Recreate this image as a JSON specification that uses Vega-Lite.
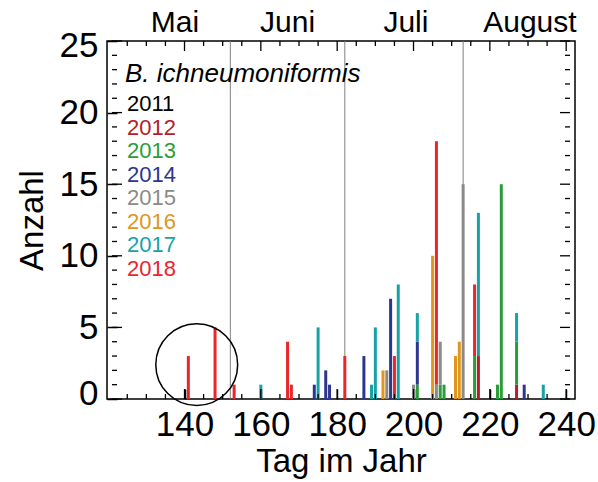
{
  "$schema": "https://vega.github.io/schema/vega-lite/v6.json",
  "width": 468,
  "height": 358,
  "autosize": {"type": "none"},
  "padding": {"left": 107, "top": 41, "right": 23, "bottom": 83},
  "config": {
    "font": "Liberation Sans",
    "view": {"stroke": "black", "strokeWidth": 1.5},
    "axis": {"domain": false, "grid": false, "ticks": true, "tickColor": "#000000", "tickWidth": 1.5, "labelColor": "black", "titleColor": "black", "titleFontWeight": "normal", "labelOverlap": false, "labelFlush": false}
  },
  "datasets": {
    "counts": [
      {"day": 141, "year": 2018, "n": 3},
      {"day": 148, "year": 2018, "n": 5},
      {"day": 153, "year": 2018, "n": 1},
      {"day": 160, "year": 2017, "n": 1},
      {"day": 167, "year": 2018, "n": 4},
      {"day": 168, "year": 2018, "n": 1},
      {"day": 174, "year": 2014, "n": 1},
      {"day": 175, "year": 2017, "n": 5},
      {"day": 177, "year": 2014, "n": 2},
      {"day": 178, "year": 2014, "n": 1},
      {"day": 182, "year": 2018, "n": 3},
      {"day": 187, "year": 2014, "n": 3},
      {"day": 189, "year": 2017, "n": 1},
      {"day": 190, "year": 2017, "n": 5},
      {"day": 192, "year": 2016, "n": 2},
      {"day": 193, "year": 2015, "n": 2},
      {"day": 194, "year": 2014, "n": 7},
      {"day": 195, "year": 2018, "n": 3},
      {"day": 196, "year": 2017, "n": 8},
      {"day": 200, "year": 2015, "n": 1},
      {"day": 201, "year": 2013, "n": 1},
      {"day": 201, "year": 2014, "n": 3},
      {"day": 201, "year": 2017, "n": 2},
      {"day": 205, "year": 2016, "n": 10},
      {"day": 206, "year": 2015, "n": 1},
      {"day": 206, "year": 2018, "n": 17},
      {"day": 207, "year": 2013, "n": 1},
      {"day": 207, "year": 2015, "n": 3},
      {"day": 208, "year": 2013, "n": 1},
      {"day": 211, "year": 2016, "n": 3},
      {"day": 212, "year": 2016, "n": 4},
      {"day": 213, "year": 2015, "n": 15},
      {"day": 216, "year": 2013, "n": 3},
      {"day": 216, "year": 2018, "n": 5},
      {"day": 217, "year": 2012, "n": 3},
      {"day": 217, "year": 2017, "n": 10},
      {"day": 222, "year": 2013, "n": 1},
      {"day": 223, "year": 2013, "n": 15},
      {"day": 227, "year": 2012, "n": 1},
      {"day": 227, "year": 2013, "n": 3},
      {"day": 227, "year": 2017, "n": 2},
      {"day": 229, "year": 2014, "n": 1},
      {"day": 234, "year": 2017, "n": 1}
    ],
    "monthstarts": [{"day": 152}, {"day": 182}, {"day": 213}],
    "monthlabels": [
      {"month": "Mai", "day": 137.5},
      {"month": "Juni", "day": 167},
      {"month": "Juli", "day": 198},
      {"month": "August", "day": 230.5}
    ],
    "circle": [{"day": 143.2, "n": 2.4}],
    "xmajor": [{"day": 140}, {"day": 160}, {"day": 180}, {"day": 200}, {"day": 220}, {"day": 240}],
    "xminor": [{"day": 125}, {"day": 130}, {"day": 135}, {"day": 145}, {"day": 150}, {"day": 155}, {"day": 165}, {"day": 170}, {"day": 175}, {"day": 185}, {"day": 190}, {"day": 195}, {"day": 205}, {"day": 210}, {"day": 215}, {"day": 225}, {"day": 230}, {"day": 235}],
    "ymajor": [{"n": 0}, {"n": 5}, {"n": 10}, {"n": 15}, {"n": 20}, {"n": 25}],
    "yminor": [{"n": 1}, {"n": 2}, {"n": 3}, {"n": 4}, {"n": 6}, {"n": 7}, {"n": 8}, {"n": 9}, {"n": 11}, {"n": 12}, {"n": 13}, {"n": 14}, {"n": 16}, {"n": 17}, {"n": 18}, {"n": 19}, {"n": 21}, {"n": 22}, {"n": 23}, {"n": 24}]
  },
  "resolve": {"axis": {"x": "independent", "y": "independent"}},
  "layer": [
    {
      "data": {"name": "monthstarts"},
      "mark": {"type": "rule", "color": "#808080", "strokeWidth": 1},
      "encoding": {
        "x": {"field": "day", "type": "quantitative", "scale": {"domain": [121, 241], "nice": false, "zero": false}, "axis": null}
      }
    },
    {
      "data": {"name": "counts"},
      "mark": {"type": "bar", "size": 3},
      "encoding": {
        "x": {"field": "day", "type": "quantitative", "scale": {"domain": [121, 241], "nice": false, "zero": false},
          "axis": {"orient": "bottom", "title": "Tag im Jahr", "titleFontSize": 33, "titlePadding": 3,
            "values": [140,160,180,200,220,240], "labelFontSize": 35, "labelPadding": 8, "tickSize": 10, "offset": -10}},
        "y": {"field": "n", "type": "quantitative", "stack": "zero", "scale": {"domain": [0, 25], "nice": false, "zero": false},
          "axis": {"orient": "left", "title": "Anzahl", "titleFontSize": 33, "titlePadding": 10,
            "values": [0,5,10,15,20,25], "labelFontSize": 35, "labelPadding": 9, "tickSize": 10, "offset": -10,
            "labelOffset": {"condition": [{"test": "datum.value === 0", "value": -6}, {"test": "datum.value === 25", "value": 4}], "value": 0}}},
        "color": {"field": "year", "type": "nominal",
          "scale": {"domain": [2011,2012,2013,2014,2015,2016,2017,2018], "range": ["#000000","#b3202a","#2a9d38","#2c3590","#8a8a8a","#e0961c","#17a2a6","#e8262c"]},
          "legend": {"orient": "none", "legendX": 18, "legendY": 20, "title": "B. ichneumoniformis", "titleFontStyle": "italic", "titleFontWeight": "normal", "titleFontSize": 26, "titleColor": "black", "titlePadding": 6, "titleLimit": 500,
            "labelFontSize": 22, "symbolSize": 0, "symbolOpacity": 0, "symbolStrokeWidth": 0, "labelOffset": -20, "rowPadding": 1.5,
            "encode": {"labels": {"update": {"fill": {"scale": "color", "field": "value"}}}}}},
        "order": {"field": "year", "type": "quantitative"}
      }
    },
    {
      "data": {"name": "xmajor"},
      "mark": {"type": "tick", "orient": "vertical", "color": "black", "size": 10, "thickness": 1.3, "yOffset": -5, "opacity": 1},
      "encoding": {
        "x": {"field": "day", "type": "quantitative", "scale": {"domain": [121, 241], "nice": false, "zero": false}, "axis": null},
        "y": {"datum": 0, "type": "quantitative", "scale": {"domain": [0, 25], "nice": false, "zero": false}, "axis": null}
      }
    },
    {
      "data": {"name": "xminor"},
      "mark": {"type": "tick", "orient": "vertical", "color": "black", "size": 5, "thickness": 1.3, "yOffset": -2.5, "opacity": 1},
      "encoding": {
        "x": {"field": "day", "type": "quantitative", "scale": {"domain": [121, 241], "nice": false, "zero": false}, "axis": null},
        "y": {"datum": 0, "type": "quantitative", "scale": {"domain": [0, 25], "nice": false, "zero": false}, "axis": null}
      }
    },
    {
      "data": {"name": "xmajor"},
      "mark": {"type": "tick", "orient": "vertical", "color": "black", "size": 10, "thickness": 1.3, "yOffset": 5, "opacity": 1},
      "encoding": {
        "x": {"field": "day", "type": "quantitative", "scale": {"domain": [121, 241], "nice": false, "zero": false}, "axis": null},
        "y": {"datum": 25, "type": "quantitative", "scale": {"domain": [0, 25], "nice": false, "zero": false}, "axis": null}
      }
    },
    {
      "data": {"name": "xminor"},
      "mark": {"type": "tick", "orient": "vertical", "color": "black", "size": 5, "thickness": 1.3, "yOffset": 2.5, "opacity": 1},
      "encoding": {
        "x": {"field": "day", "type": "quantitative", "scale": {"domain": [121, 241], "nice": false, "zero": false}, "axis": null},
        "y": {"datum": 25, "type": "quantitative", "scale": {"domain": [0, 25], "nice": false, "zero": false}, "axis": null}
      }
    },
    {
      "data": {"name": "ymajor"},
      "mark": {"type": "tick", "orient": "horizontal", "color": "black", "size": 10, "thickness": 1.3, "xOffset": 5, "opacity": 1},
      "encoding": {
        "x": {"datum": 121, "type": "quantitative", "scale": {"domain": [121, 241], "nice": false, "zero": false}, "axis": null},
        "y": {"field": "n", "type": "quantitative", "scale": {"domain": [0, 25], "nice": false, "zero": false}, "axis": null}
      }
    },
    {
      "data": {"name": "yminor"},
      "mark": {"type": "tick", "orient": "horizontal", "color": "black", "size": 5, "thickness": 1.3, "xOffset": 2.5, "opacity": 1},
      "encoding": {
        "x": {"datum": 121, "type": "quantitative", "scale": {"domain": [121, 241], "nice": false, "zero": false}, "axis": null},
        "y": {"field": "n", "type": "quantitative", "scale": {"domain": [0, 25], "nice": false, "zero": false}, "axis": null}
      }
    },
    {
      "data": {"name": "ymajor"},
      "mark": {"type": "tick", "orient": "horizontal", "color": "black", "size": 10, "thickness": 1.3, "xOffset": -5, "opacity": 1},
      "encoding": {
        "x": {"datum": 241, "type": "quantitative", "scale": {"domain": [121, 241], "nice": false, "zero": false}, "axis": null},
        "y": {"field": "n", "type": "quantitative", "scale": {"domain": [0, 25], "nice": false, "zero": false}, "axis": null}
      }
    },
    {
      "data": {"name": "yminor"},
      "mark": {"type": "tick", "orient": "horizontal", "color": "black", "size": 5, "thickness": 1.3, "xOffset": -2.5, "opacity": 1},
      "encoding": {
        "x": {"datum": 241, "type": "quantitative", "scale": {"domain": [121, 241], "nice": false, "zero": false}, "axis": null},
        "y": {"field": "n", "type": "quantitative", "scale": {"domain": [0, 25], "nice": false, "zero": false}, "axis": null}
      }
    },
    {
      "data": {"name": "circle"},
      "mark": {"type": "point", "shape": "circle", "size": 6700, "filled": false, "stroke": "black", "strokeWidth": 1.5, "opacity": 1},
      "encoding": {
        "x": {"field": "day", "type": "quantitative", "scale": {"domain": [121, 241], "nice": false, "zero": false}, "axis": null},
        "y": {"field": "n", "type": "quantitative", "scale": {"domain": [0, 25], "nice": false, "zero": false}, "axis": null}
      }
    },
    {
      "data": {"name": "monthlabels"},
      "mark": {"type": "text", "fontSize": 30, "baseline": "alphabetic", "dy": -9, "color": "black"},
      "encoding": {
        "x": {"field": "day", "type": "quantitative", "scale": {"domain": [121, 241], "nice": false, "zero": false}, "axis": null},
        "y": {"datum": 25, "type": "quantitative", "scale": {"domain": [0, 25], "nice": false, "zero": false}, "axis": null},
        "text": {"field": "month"}
      }
    }
  ]
}
